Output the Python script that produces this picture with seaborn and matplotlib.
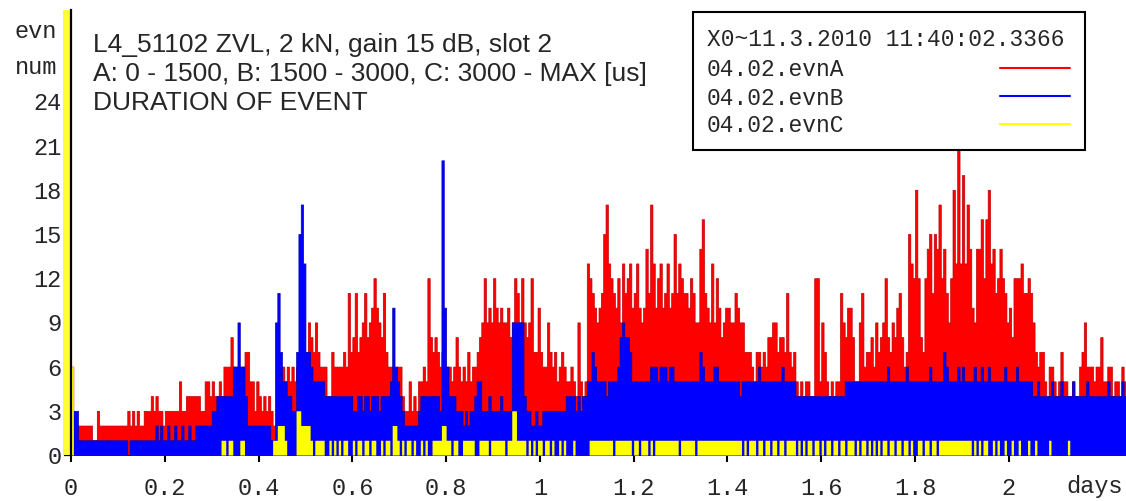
import numpy as np
import pandas as pd
import seaborn as sns
import matplotlib.pyplot as plt
from matplotlib.patches import Rectangle
from matplotlib.lines import Line2D

# event counts per time bin (bin width 0.005 day), one row = 0.1 day
t_start = 0.0
t_step = 0.005

evn_a = [
    6, 2, 2, 2, 2, 2, 2, 2, 2, 1, 1, 3, 2, 2, 2, 2, 2, 2, 2, 2,
    2, 2, 2, 2, 3, 2, 3, 2, 3, 2, 2, 3, 3, 3, 4, 3, 4, 3, 3, 2,
    3, 3, 3, 3, 3, 3, 5, 3, 3, 4, 4, 4, 4, 4, 4, 3, 3, 5, 5, 4,
    5, 4, 4, 5, 4, 6, 6, 6, 8, 6, 6, 6, 6, 6, 7, 7, 5, 5, 3, 5,
    4, 3, 4, 3, 4, 3, 2, 2, 5, 5, 6, 5, 6, 5, 6, 5, 6, 6, 6, 6,
    7, 9, 8, 7, 9, 7, 6, 6, 6, 4, 4, 7, 6, 6, 6, 6, 7, 6, 11, 7,
    8, 11, 7, 8, 9, 11, 8, 9, 10, 12, 10, 9, 8, 11, 7, 6, 6, 6, 5, 6,
    6, 4, 3, 3, 5, 3, 4, 3, 5, 5, 6, 5, 12, 8, 7, 8, 7, 6, 7, 6,
    6, 6, 5, 6, 8, 6, 5, 6, 5, 7, 5, 6, 6, 7, 8, 9, 12, 9, 10, 9,
    12, 10, 9, 10, 9, 9, 10, 8, 9, 12, 11, 9, 12, 9, 8, 9, 12, 7, 7, 10,
    7, 6, 6, 9, 7, 6, 7, 5, 6, 7, 6, 5, 5, 6, 5, 4, 9, 5, 4, 5,
    13, 12, 11, 10, 9, 10, 11, 15, 17, 13, 12, 11, 10, 12, 9, 13, 11, 12, 13, 10,
    11, 13, 10, 9, 10, 14, 11, 17, 13, 10, 12, 13, 10, 11, 13, 10, 11, 15, 11, 13,
    12, 11, 11, 10, 12, 11, 9, 9, 14, 16, 11, 10, 9, 13, 9, 12, 10, 8, 9, 10,
    10, 9, 9, 11, 10, 9, 9, 7, 7, 7, 6, 5, 7, 7, 6, 7, 6, 8, 8, 9,
    9, 7, 8, 8, 7, 11, 7, 6, 7, 5, 4, 5, 4, 5, 5, 4, 4, 12, 12, 5,
    9, 7, 5, 4, 5, 4, 5, 5, 11, 9, 8, 10, 10, 8, 5, 5, 9, 11, 6, 7,
    7, 8, 6, 9, 7, 8, 9, 12, 8, 7, 9, 8, 10, 11, 8, 6, 7, 15, 13, 12,
    18, 12, 8, 7, 12, 14, 15, 11, 15, 14, 17, 12, 14, 11, 9, 12, 18, 13, 21, 13,
    19, 13, 17, 14, 10, 9, 14, 14, 16, 12, 16, 18, 13, 14, 11, 12, 14, 12, 11, 9,
    10, 8, 12, 12, 12, 13, 11, 11, 12, 11, 9, 7, 6, 7, 7, 5, 4, 6, 6, 5,
    4, 5, 7, 5, 5, 4, 4, 5, 4, 4, 6, 7, 9, 6, 6, 6, 5, 6, 6, 8,
    5, 5, 6, 6, 4, 5, 5, 4, 6, 5,
]

evn_b = [
    0, 3, 3, 1, 1, 1, 1, 1, 1, 1, 1, 1, 1, 1, 1, 1, 1, 1, 1, 1,
    1, 1, 1, 1, 0, 1, 1, 1, 1, 1, 1, 1, 1, 1, 1, 1, 2, 1, 2, 1,
    1, 2, 1, 1, 2, 1, 1, 2, 1, 1, 2, 1, 1, 2, 2, 2, 2, 2, 2, 2,
    3, 3, 4, 4, 4, 4, 4, 4, 4, 6, 6, 9, 6, 6, 4, 2, 2, 2, 2, 2,
    2, 2, 2, 2, 2, 1, 1, 9, 11, 7, 5, 5, 4, 4, 3, 3, 7, 15, 17, 13,
    7, 7, 6, 5, 5, 5, 5, 5, 4, 4, 4, 4, 4, 4, 4, 4, 4, 4, 4, 4,
    3, 3, 4, 4, 3, 4, 4, 3, 4, 4, 4, 3, 4, 4, 4, 4, 5, 10, 6, 5,
    4, 3, 2, 2, 2, 2, 2, 2, 3, 4, 4, 4, 4, 4, 4, 4, 4, 3, 20, 10,
    6, 4, 4, 4, 3, 3, 3, 2, 3, 2, 3, 3, 4, 5, 5, 3, 3, 3, 4, 3,
    3, 3, 3, 4, 3, 3, 3, 3, 9, 9, 9, 9, 9, 4, 3, 3, 2, 2, 3, 2,
    2, 3, 3, 3, 3, 3, 3, 3, 3, 3, 3, 4, 4, 4, 4, 3, 4, 3, 4, 4,
    5, 5, 7, 6, 5, 5, 5, 5, 4, 5, 5, 5, 5, 6, 8, 9, 8, 8, 7, 5,
    5, 5, 5, 5, 5, 5, 5, 6, 6, 6, 5, 6, 6, 6, 5, 6, 6, 5, 5, 5,
    5, 5, 5, 5, 5, 5, 5, 5, 7, 6, 5, 5, 5, 5, 6, 6, 5, 5, 5, 5,
    5, 5, 5, 5, 5, 4, 5, 5, 5, 5, 5, 5, 5, 6, 5, 5, 5, 5, 5, 5,
    5, 5, 5, 6, 5, 5, 5, 5, 5, 4, 4, 4, 4, 4, 4, 4, 4, 4, 4, 4,
    4, 4, 4, 4, 4, 4, 4, 4, 4, 4, 5, 5, 5, 5, 5, 5, 5, 5, 5, 5,
    5, 5, 5, 5, 5, 5, 5, 5, 6, 5, 5, 5, 5, 5, 5, 5, 6, 5, 5, 5,
    5, 5, 5, 5, 5, 5, 6, 5, 5, 5, 5, 5, 7, 6, 5, 5, 5, 5, 6, 5,
    6, 5, 5, 5, 5, 6, 5, 5, 6, 5, 5, 6, 5, 5, 5, 5, 5, 5, 6, 5,
    5, 5, 5, 6, 5, 5, 5, 5, 5, 5, 4, 4, 5, 4, 4, 4, 4, 4, 5, 4,
    4, 4, 5, 4, 4, 4, 4, 5, 4, 4, 4, 4, 4, 5, 4, 4, 4, 4, 4, 4,
    4, 4, 5, 4, 4, 4, 4, 4, 5, 4,
]

evn_c = [
    6, 0, 0, 0, 0, 0, 0, 0, 0, 0, 0, 0, 0, 0, 0, 0, 0, 0, 0, 0,
    0, 0, 0, 0, 0, 0, 0, 0, 0, 0, 0, 0, 0, 0, 0, 0, 0, 0, 0, 0,
    0, 0, 0, 0, 0, 0, 0, 0, 0, 0, 0, 0, 0, 0, 0, 0, 0, 0, 0, 0,
    0, 0, 0, 0, 1, 1, 0, 1, 1, 0, 0, 0, 1, 1, 0, 0, 0, 0, 0, 0,
    0, 0, 0, 0, 0, 0, 1, 1, 2, 2, 2, 1, 0, 0, 0, 0, 3, 3, 2, 2,
    2, 2, 1, 0, 1, 1, 1, 1, 0, 0, 1, 0, 1, 0, 1, 0, 1, 1, 0, 0,
    1, 0, 1, 1, 0, 1, 1, 0, 1, 1, 0, 0, 1, 0, 1, 1, 0, 2, 2, 1,
    0, 1, 0, 1, 1, 0, 1, 0, 0, 1, 0, 1, 0, 0, 1, 1, 1, 1, 2, 2,
    1, 1, 0, 1, 1, 0, 0, 1, 1, 1, 1, 1, 0, 0, 1, 1, 1, 1, 0, 1,
    1, 1, 1, 1, 1, 0, 1, 1, 3, 3, 1, 1, 1, 1, 0, 1, 0, 1, 0, 1,
    1, 0, 1, 1, 0, 1, 0, 0, 1, 0, 1, 0, 0, 0, 1, 0, 0, 0, 0, 0,
    0, 1, 1, 1, 1, 1, 1, 1, 1, 1, 1, 0, 1, 1, 1, 1, 1, 1, 1, 0,
    1, 1, 0, 1, 1, 1, 0, 1, 0, 1, 1, 1, 1, 1, 1, 1, 1, 1, 1, 0,
    1, 1, 1, 1, 1, 1, 0, 1, 1, 1, 1, 1, 1, 1, 1, 1, 1, 1, 1, 1,
    1, 1, 1, 1, 1, 1, 0, 1, 0, 1, 1, 1, 0, 1, 1, 0, 1, 1, 0, 1,
    1, 0, 1, 1, 0, 1, 1, 1, 1, 0, 1, 0, 1, 0, 1, 1, 0, 1, 1, 0,
    1, 0, 1, 1, 0, 1, 1, 0, 1, 1, 0, 1, 1, 1, 0, 1, 0, 1, 1, 0,
    1, 0, 1, 0, 1, 0, 1, 1, 0, 1, 1, 0, 1, 1, 0, 1, 1, 0, 1, 0,
    0, 1, 1, 0, 1, 1, 0, 1, 1, 0, 1, 1, 1, 1, 1, 1, 1, 1, 1, 1,
    1, 1, 1, 1, 0, 1, 0, 1, 0, 1, 1, 0, 0, 1, 0, 1, 0, 0, 1, 0,
    0, 1, 0, 0, 1, 0, 0, 0, 1, 0, 0, 1, 0, 0, 0, 0, 0, 1, 0, 0,
    0, 0, 0, 0, 0, 1, 0, 0, 0, 0, 0, 0, 0, 0, 0, 0, 0, 0, 0, 0,
    0, 0, 0, 0, 0, 0, 0, 0, 0, 0,
]

y_ticks = [0, 3, 6, 9, 12, 15, 18, 21, 24]
x_ticks = [0, 0.2, 0.4, 0.6, 0.8, 1.0, 1.2, 1.4, 1.6, 1.8, 2.0]
x_tick_labels = ["0", "0.2", "0.4", "0.6", "0.8", "1", "1.2", "1.4", "1.6", "1.8", "2"]

title_lines = [
    "L4_51102 ZVL, 2 kN, gain 15 dB, slot 2",
    "A: 0 - 1500, B: 1500 - 3000, C: 3000 - MAX [us]",
    "DURATION OF EVENT",
]
legend_title = "X0~11.3.2010 11:40:02.3366"
series_names = ["04.02.evnA", "04.02.evnB", "04.02.evnC"]
series_cols = ["A", "B", "C"]
series_colors = ["#ff0000", "#0000ff", "#ffff00"]
edge_colors = ["#c00000", "#0000b0", "#ffff00"]

MONO = ["Liberation Mono", "DejaVu Sans Mono"]
SANS = ["Liberation Sans", "DejaVu Sans"]

n_bins = len(evn_a)
t_end = t_start + t_step * n_bins
df = pd.DataFrame({"t": t_start + t_step * (np.arange(n_bins) + 0.5),
                   "A": evn_a, "B": evn_b, "C": evn_c})

sns.set_style("white")
W, H = 1126, 501
fig = plt.figure(figsize=(W / 100, H / 100), dpi=100)
ax = fig.add_axes([71 / W, (H - 455) / H, (W - 71) / W, (455 - 10) / H])

for col, color, ec in zip(series_cols, series_colors, edge_colors):
    sns.histplot(data=df, x="t", weights=col, bins=n_bins, binrange=(t_start, t_end),
                 element="step", fill=True, color=color, alpha=1, edgecolor=ec,
                 linewidth=0.5 if col != "C" else 0, ax=ax)

ax.set_xlim(0, 2.25)
ax.set_ylim(0, 30.2)
ax.set_xlabel("")
ax.set_ylabel("")
for s in ["top", "right", "bottom"]:
    ax.spines[s].set_visible(False)
ax.spines["left"].set_color("black")
ax.spines["left"].set_linewidth(1.6)

ax.set_xticks(x_ticks, x_tick_labels)
ax.set_yticks(y_ticks)
ax.set_yticks(np.arange(0, 31, 1), minor=True)
ax.tick_params(axis="x", which="major", bottom=True, direction="out", length=5, width=1.5,
               color="black", pad=11, labelsize=17)
ax.tick_params(axis="y", which="major", left=True, direction="out", length=5, width=1.6,
               color="black", pad=2, labelsize=17)
ax.tick_params(axis="y", which="minor", left=True, direction="out", length=3, width=1.2, color="black")
for lab in ax.get_xticklabels() + ax.get_yticklabels():
    lab.set_fontfamily(MONO)

# yellow band along the y axis
ax.add_patch(Rectangle((-8 / 1055, 0), 7 / 1055, 1, transform=ax.transAxes,
                       facecolor="#ffff30", edgecolor="none", clip_on=False, zorder=1))

fig.text(57 / W, 1 - 32 / H, "evn", ha="right", va="center", fontsize=17, family=MONO)
fig.text(57 / W, 1 - 68 / H, "num", ha="right", va="center", fontsize=17, family=MONO)
fig.text(1123 / W, 1 - 487 / H, "days", ha="right", va="center", fontsize=17, family=MONO)

for line, yy in zip(title_lines, [45, 74, 103]):
    fig.text(93 / W, 1 - yy / H, line, ha="left", va="center", fontsize=19, family=SANS)

# legend box
fig.add_artist(Rectangle((693 / W, 1 - 150 / H), (1085 - 693) / W, (150 - 12) / H,
                         transform=fig.transFigure, facecolor="white", edgecolor="black",
                         linewidth=1.5, zorder=5))
fig.text(707 / W, 1 - 40 / H, legend_title, ha="left", va="center", fontsize=16.5, family=MONO, zorder=6)
for name, color, yy in zip(series_names, series_colors, [70, 98, 126]):
    fig.text(707 / W, 1 - yy / H, name, ha="left", va="center", fontsize=16.5, family=MONO, zorder=6)
    fig.add_artist(Line2D([1000 / W, 1070 / W], [1 - (yy - 2) / H] * 2, transform=fig.transFigure,
                          color=color, linewidth=1.5, zorder=6))

fig.savefig("out.png", dpi=100)
